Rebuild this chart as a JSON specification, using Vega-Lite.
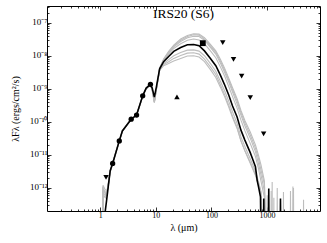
{
  "$schema": "https://vega.github.io/schema/vega-lite/v6.json",
  "width": 273,
  "height": 205,
  "autosize": {"type": "none"},
  "padding": {"left": 47, "top": 6, "right": 7, "bottom": 32},
  "background": "white",
  "title": {"text": "IRS20 (S6)", "offset": -15, "fontSize": 13.5, "font": "Liberation Serif", "fontWeight": "normal", "anchor": "middle", "color": "black"},
  "config": {
    "view": {"stroke": "black", "strokeWidth": 1},
    "axis": {"domain": false, "grid": false, "labelFont": "Liberation Serif", "titleFont": "Liberation Serif", "labelColor": "black", "titleColor": "black", "tickColor": "black", "titleFontWeight": "normal", "labelFontSize": 8, "titleFontSize": 10, "tickWidth": 0.8}
  },
  "datasets": {
    "models": [
      {"m":"best","w":1.18,"f":1e-14},{"m":"best","w":1.23,"f":2e-13},{"m":"best","w":1.3,"f":4.2e-13},{"m":"best","w":1.4,"f":1.2e-12},{"m":"best","w":1.51,"f":3.3e-12},{"m":"best","w":1.67,"f":5.5e-12},{"m":"best","w":2.2,"f":2.65e-11},{"m":"best","w":2.5,"f":5.3e-11},{"m":"best","w":3.6,"f":1.2e-10},{"m":"best","w":4.5,"f":1.6e-10},{"m":"best","w":5.8,"f":6.1e-10},{"m":"best","w":6.7,"f":1.05e-9},{"m":"best","w":8.0,"f":1.36e-9},{"m":"best","w":8.6,"f":1.05e-9},{"m":"best","w":9.4,"f":5.6e-10},{"m":"best","w":10.2,"f":1.1e-9},{"m":"best","w":11.7,"f":4.0e-9},{"m":"best","w":13.8,"f":6.6e-9},{"m":"best","w":17,"f":9.5e-9},{"m":"best","w":21,"f":1.35e-8},{"m":"best","w":28,"f":1.78e-8},{"m":"best","w":37,"f":2.14e-8},{"m":"best","w":48,"f":2.19e-8},{"m":"best","w":60,"f":2.0e-8},{"m":"best","w":75,"f":1.4e-8},{"m":"best","w":96,"f":8.3e-9},{"m":"best","w":120,"f":5.0e-9},{"m":"best","w":145,"f":2.6e-9},{"m":"best","w":175,"f":1.26e-9},{"m":"best","w":205,"f":6.5e-10},{"m":"best","w":240,"f":3.0e-10},{"m":"best","w":290,"f":1.4e-10},{"m":"best","w":340,"f":5.6e-11},{"m":"best","w":400,"f":2.8e-11},{"m":"best","w":500,"f":1.17e-11},{"m":"best","w":560,"f":7e-12},{"m":"best","w":620,"f":4.4e-12},{"m":"best","w":666,"f":1.7e-12},{"m":"best","w":711,"f":1.0e-12},{"m":"best","w":764,"f":5.4e-13},{"m":"best","w":790,"f":1e-14},{"m":"best","w":860,"f":1e-14},{"m":"best","w":875,"f":4.8e-13},{"m":"best","w":890,"f":1e-14},{"m":"best","w":1060,"f":1e-14},{"m":"best","w":1077,"f":9.6e-13},{"m":"best","w":1095,"f":1e-14},{"m":"best","w":1720,"f":1e-14},{"m":"best","w":1750,"f":4.8e-13},{"m":"best","w":1780,"f":1e-14},

      {"m":"g1","w":1.09,"f":1e-14},{"m":"g1","w":1.1,"f":8e-13},{"m":"g1","w":1.2,"f":7e-13},{"m":"g1","w":1.3,"f":6.5e-13},{"m":"g1","w":1.4,"f":1.3e-12},{"m":"g1","w":1.5,"f":3.0e-12},{"m":"g1","w":1.67,"f":5.6e-12},{"m":"g1","w":2.2,"f":2.7e-11},{"m":"g1","w":2.5,"f":5.4e-11},{"m":"g1","w":3.6,"f":1.22e-10},{"m":"g1","w":4.5,"f":1.65e-10},{"m":"g1","w":5.8,"f":6.0e-10},{"m":"g1","w":6.7,"f":1.0e-9},{"m":"g1","w":8.0,"f":1.3e-9},{"m":"g1","w":8.6,"f":9.5e-10},{"m":"g1","w":9.4,"f":4.2e-10},{"m":"g1","w":10.2,"f":9.8e-10},
      {"m":"g1","w":11.7,"f":4.2e-9},{"m":"g1","w":13.8,"f":7.9e-9},{"m":"g1","w":17,"f":1.35e-8},{"m":"g1","w":21,"f":2.1e-8},{"m":"g1","w":28,"f":3.2e-8},{"m":"g1","w":37,"f":4.1e-8},{"m":"g1","w":48,"f":4.6e-8},{"m":"g1","w":60,"f":4.5e-8},{"m":"g1","w":75,"f":3.5e-8},{"m":"g1","w":96,"f":2.2e-8},{"m":"g1","w":120,"f":1.4e-8},{"m":"g1","w":145,"f":7.8e-9},{"m":"g1","w":175,"f":4.0e-9},{"m":"g1","w":205,"f":2.1e-9},{"m":"g1","w":240,"f":1.07e-9},{"m":"g1","w":290,"f":5.0e-10},{"m":"g1","w":340,"f":2.2e-10},{"m":"g1","w":400,"f":1.1e-10},{"m":"g1","w":500,"f":4.9e-11},{"m":"g1","w":620,"f":2.0e-11},{"m":"g1","w":700,"f":1.0e-11},{"m":"g1","w":780,"f":5.0e-12},{"m":"g1","w":900,"f":1.6e-12},{"m":"g1","w":950,"f":1e-14},{"m":"g1","w":1230,"f":1e-14},{"m":"g1","w":1240,"f":1.5e-12},{"m":"g1","w":1250,"f":1e-14},{"m":"g1","w":2960,"f":1e-14},{"m":"g1","w":3000,"f":1e-12},{"m":"g1","w":3040,"f":1e-14},

      {"m":"g2","w":1.11,"f":1e-14},{"m":"g2","w":1.12,"f":6e-13},{"m":"g2","w":1.25,"f":5e-13},{"m":"g2","w":1.35,"f":9e-13},{"m":"g2","w":1.5,"f":3.1e-12},{"m":"g2","w":1.67,"f":5.5e-12},{"m":"g2","w":2.2,"f":2.6e-11},{"m":"g2","w":2.5,"f":5.2e-11},{"m":"g2","w":3.6,"f":1.2e-10},{"m":"g2","w":4.5,"f":1.62e-10},{"m":"g2","w":5.8,"f":6.1e-10},{"m":"g2","w":6.7,"f":1.03e-9},{"m":"g2","w":8.0,"f":1.32e-9},{"m":"g2","w":8.6,"f":9.8e-10},{"m":"g2","w":9.4,"f":4.3e-10},{"m":"g2","w":10.2,"f":1.0e-9},
      {"m":"g2","w":11.7,"f":4.1e-9},{"m":"g2","w":13.8,"f":7.6e-9},{"m":"g2","w":17,"f":1.26e-8},{"m":"g2","w":21,"f":2.0e-8},{"m":"g2","w":28,"f":2.95e-8},{"m":"g2","w":37,"f":3.8e-8},{"m":"g2","w":48,"f":4.3e-8},{"m":"g2","w":60,"f":4.2e-8},{"m":"g2","w":75,"f":3.2e-8},{"m":"g2","w":96,"f":2.0e-8},{"m":"g2","w":120,"f":1.26e-8},{"m":"g2","w":145,"f":6.9e-9},{"m":"g2","w":175,"f":3.5e-9},{"m":"g2","w":205,"f":1.86e-9},{"m":"g2","w":240,"f":9.3e-10},{"m":"g2","w":290,"f":4.3e-10},{"m":"g2","w":340,"f":1.9e-10},{"m":"g2","w":400,"f":9.3e-11},{"m":"g2","w":500,"f":4.0e-11},{"m":"g2","w":620,"f":1.6e-11},{"m":"g2","w":700,"f":7.9e-12},{"m":"g2","w":780,"f":3.5e-12},{"m":"g2","w":900,"f":1.26e-12},{"m":"g2","w":1000,"f":1e-14},{"m":"g2","w":1510,"f":1e-14},{"m":"g2","w":1530,"f":1e-12},{"m":"g2","w":1550,"f":1e-14},{"m":"g2","w":4500,"f":1e-14},{"m":"g2","w":4550,"f":4.4e-13},{"m":"g2","w":4600,"f":1e-14},

      {"m":"g3","w":1.1,"f":1e-14},{"m":"g3","w":1.11,"f":1.0e-12},{"m":"g3","w":1.2,"f":8e-13},{"m":"g3","w":1.3,"f":7e-13},{"m":"g3","w":1.4,"f":1.4e-12},{"m":"g3","w":1.5,"f":3.3e-12},{"m":"g3","w":1.67,"f":5.7e-12},{"m":"g3","w":2.2,"f":2.7e-11},{"m":"g3","w":2.5,"f":5.3e-11},{"m":"g3","w":3.6,"f":1.21e-10},{"m":"g3","w":4.5,"f":1.63e-10},{"m":"g3","w":5.8,"f":6.0e-10},{"m":"g3","w":6.7,"f":1.02e-9},{"m":"g3","w":8.0,"f":1.31e-9},{"m":"g3","w":8.6,"f":9.6e-10},{"m":"g3","w":9.4,"f":4.0e-10},{"m":"g3","w":10.2,"f":9.6e-10},
      {"m":"g3","w":11.7,"f":4.0e-9},{"m":"g3","w":13.8,"f":7.4e-9},{"m":"g3","w":17,"f":1.2e-8},{"m":"g3","w":21,"f":1.86e-8},{"m":"g3","w":28,"f":2.7e-8},{"m":"g3","w":37,"f":3.5e-8},{"m":"g3","w":48,"f":3.9e-8},{"m":"g3","w":60,"f":3.8e-8},{"m":"g3","w":75,"f":2.95e-8},{"m":"g3","w":96,"f":1.8e-8},{"m":"g3","w":120,"f":1.12e-8},{"m":"g3","w":145,"f":6.0e-9},{"m":"g3","w":175,"f":3.0e-9},{"m":"g3","w":205,"f":1.6e-9},{"m":"g3","w":240,"f":7.9e-10},{"m":"g3","w":290,"f":3.5e-10},{"m":"g3","w":340,"f":1.6e-10},{"m":"g3","w":400,"f":7.6e-11},{"m":"g3","w":500,"f":3.2e-11},{"m":"g3","w":620,"f":1.26e-11},{"m":"g3","w":700,"f":5.6e-12},{"m":"g3","w":780,"f":2.5e-12},{"m":"g3","w":900,"f":7.9e-13},{"m":"g3","w":960,"f":1e-14},{"m":"g3","w":1960,"f":1e-14},{"m":"g3","w":1980,"f":7.5e-13},{"m":"g3","w":2000,"f":1e-14},

      {"m":"g4","w":1.12,"f":1e-14},{"m":"g4","w":1.13,"f":7e-13},{"m":"g4","w":1.22,"f":6e-13},{"m":"g4","w":1.32,"f":7.5e-13},{"m":"g4","w":1.42,"f":1.5e-12},{"m":"g4","w":1.52,"f":3.4e-12},{"m":"g4","w":1.67,"f":5.5e-12},{"m":"g4","w":2.2,"f":2.65e-11},{"m":"g4","w":2.5,"f":5.3e-11},{"m":"g4","w":3.6,"f":1.2e-10},{"m":"g4","w":4.5,"f":1.6e-10},{"m":"g4","w":5.8,"f":6.1e-10},{"m":"g4","w":6.7,"f":1.04e-9},{"m":"g4","w":8.0,"f":1.34e-9},{"m":"g4","w":8.6,"f":1.0e-9},{"m":"g4","w":9.4,"f":4.6e-10},{"m":"g4","w":10.2,"f":1.02e-9},
      {"m":"g4","w":11.7,"f":4.0e-9},{"m":"g4","w":13.8,"f":7.1e-9},{"m":"g4","w":17,"f":1.12e-8},{"m":"g4","w":21,"f":1.66e-8},{"m":"g4","w":28,"f":2.3e-8},{"m":"g4","w":37,"f":2.95e-8},{"m":"g4","w":48,"f":3.2e-8},{"m":"g4","w":60,"f":3.0e-8},{"m":"g4","w":75,"f":2.3e-8},{"m":"g4","w":96,"f":1.4e-8},{"m":"g4","w":120,"f":8.7e-9},{"m":"g4","w":145,"f":4.6e-9},{"m":"g4","w":175,"f":2.3e-9},{"m":"g4","w":205,"f":1.17e-9},{"m":"g4","w":240,"f":5.8e-10},{"m":"g4","w":290,"f":2.6e-10},{"m":"g4","w":340,"f":1.12e-10},{"m":"g4","w":400,"f":5.4e-11},{"m":"g4","w":500,"f":2.2e-11},{"m":"g4","w":620,"f":8.9e-12},{"m":"g4","w":700,"f":4.0e-12},{"m":"g4","w":780,"f":1.6e-12},{"m":"g4","w":900,"f":5.0e-13},{"m":"g4","w":950,"f":1e-14},{"m":"g4","w":2620,"f":1e-14},{"m":"g4","w":2650,"f":8e-13},{"m":"g4","w":2680,"f":1e-14},

      {"m":"g5","w":1.1,"f":1e-14},{"m":"g5","w":1.12,"f":9e-13},{"m":"g5","w":1.2,"f":7.5e-13},{"m":"g5","w":1.3,"f":6e-13},{"m":"g5","w":1.4,"f":1.25e-12},{"m":"g5","w":1.5,"f":3.2e-12},{"m":"g5","w":1.67,"f":5.6e-12},{"m":"g5","w":2.2,"f":2.7e-11},{"m":"g5","w":2.5,"f":5.4e-11},{"m":"g5","w":3.6,"f":1.22e-10},{"m":"g5","w":4.5,"f":1.64e-10},{"m":"g5","w":5.8,"f":5.9e-10},{"m":"g5","w":6.7,"f":1.0e-9},{"m":"g5","w":8.0,"f":1.29e-9},{"m":"g5","w":8.6,"f":9.3e-10},{"m":"g5","w":9.4,"f":4.0e-10},{"m":"g5","w":10.2,"f":9.4e-10},
      {"m":"g5","w":11.7,"f":3.8e-9},{"m":"g5","w":13.8,"f":5.8e-9},{"m":"g5","w":17,"f":7.6e-9},{"m":"g5","w":21,"f":1.0e-8},{"m":"g5","w":28,"f":1.26e-8},{"m":"g5","w":37,"f":1.48e-8},{"m":"g5","w":48,"f":1.5e-8},{"m":"g5","w":60,"f":1.38e-8},{"m":"g5","w":75,"f":1.0e-8},{"m":"g5","w":96,"f":5.8e-9},{"m":"g5","w":120,"f":3.4e-9},{"m":"g5","w":145,"f":1.7e-9},{"m":"g5","w":175,"f":8.3e-10},{"m":"g5","w":205,"f":4.2e-10},{"m":"g5","w":240,"f":2.0e-10},{"m":"g5","w":290,"f":8.9e-11},{"m":"g5","w":340,"f":3.5e-11},{"m":"g5","w":400,"f":1.8e-11},{"m":"g5","w":500,"f":7.6e-12},{"m":"g5","w":620,"f":3.2e-12},{"m":"g5","w":700,"f":1.6e-12},{"m":"g5","w":780,"f":7.9e-13},{"m":"g5","w":850,"f":1e-14},{"m":"g5","w":1000,"f":1e-14},{"m":"g5","w":1010,"f":6e-13},{"m":"g5","w":1020,"f":1e-14},{"m":"g5","w":1180,"f":1e-14},{"m":"g5","w":1190,"f":8e-13},{"m":"g5","w":1200,"f":1e-14},

      {"m":"g6","w":1.11,"f":1e-14},{"m":"g6","w":1.12,"f":1.2e-12},{"m":"g6","w":1.22,"f":9e-13},{"m":"g6","w":1.32,"f":8e-13},{"m":"g6","w":1.42,"f":1.4e-12},{"m":"g6","w":1.5,"f":3.0e-12},{"m":"g6","w":1.67,"f":5.4e-12},{"m":"g6","w":2.2,"f":2.6e-11},{"m":"g6","w":2.5,"f":5.2e-11},{"m":"g6","w":3.6,"f":1.19e-10},{"m":"g6","w":4.5,"f":1.62e-10},{"m":"g6","w":5.8,"f":6.0e-10},{"m":"g6","w":6.7,"f":1.01e-9},{"m":"g6","w":8.0,"f":1.3e-9},{"m":"g6","w":8.6,"f":9.2e-10},{"m":"g6","w":9.4,"f":3.9e-10},{"m":"g6","w":10.2,"f":9.2e-10},
      {"m":"g6","w":11.7,"f":3.7e-9},{"m":"g6","w":13.8,"f":5.4e-9},{"m":"g6","w":17,"f":6.6e-9},{"m":"g6","w":21,"f":8.3e-9},{"m":"g6","w":28,"f":1.02e-8},{"m":"g6","w":37,"f":1.2e-8},{"m":"g6","w":48,"f":1.23e-8},{"m":"g6","w":60,"f":1.12e-8},{"m":"g6","w":75,"f":7.9e-9},{"m":"g6","w":96,"f":4.6e-9},{"m":"g6","w":120,"f":2.7e-9},{"m":"g6","w":145,"f":1.32e-9},{"m":"g6","w":175,"f":6.3e-10},{"m":"g6","w":205,"f":3.2e-10},{"m":"g6","w":240,"f":1.48e-10},{"m":"g6","w":290,"f":6.8e-11},{"m":"g6","w":340,"f":2.7e-11},{"m":"g6","w":400,"f":1.32e-11},{"m":"g6","w":500,"f":5.6e-12},{"m":"g6","w":620,"f":2.4e-12},{"m":"g6","w":700,"f":1.26e-12},{"m":"g6","w":780,"f":6.3e-13},{"m":"g6","w":850,"f":1e-14},{"m":"g6","w":2900,"f":1e-14},{"m":"g6","w":2930,"f":1.1e-12},{"m":"g6","w":2960,"f":1e-14},

      {"m":"g7","w":1.1,"f":1e-14},{"m":"g7","w":1.11,"f":6e-13},{"m":"g7","w":1.2,"f":5.5e-13},{"m":"g7","w":1.3,"f":6e-13},{"m":"g7","w":1.4,"f":1.2e-12},{"m":"g7","w":1.5,"f":3.1e-12},{"m":"g7","w":1.67,"f":5.6e-12},{"m":"g7","w":2.2,"f":2.7e-11},{"m":"g7","w":2.5,"f":5.3e-11},{"m":"g7","w":3.6,"f":1.2e-10},{"m":"g7","w":4.5,"f":1.63e-10},{"m":"g7","w":5.8,"f":5.9e-10},{"m":"g7","w":6.7,"f":1.0e-9},{"m":"g7","w":8.0,"f":1.28e-9},{"m":"g7","w":8.6,"f":9.0e-10},{"m":"g7","w":9.4,"f":3.8e-10},{"m":"g7","w":10.2,"f":9.0e-10},
      {"m":"g7","w":11.7,"f":3.6e-9},{"m":"g7","w":13.8,"f":5.0e-9},{"m":"g7","w":17,"f":5.8e-9},{"m":"g7","w":21,"f":6.9e-9},{"m":"g7","w":28,"f":8.3e-9},{"m":"g7","w":37,"f":9.8e-9},{"m":"g7","w":48,"f":1.0e-8},{"m":"g7","w":60,"f":9.1e-9},{"m":"g7","w":75,"f":6.6e-9},{"m":"g7","w":96,"f":3.8e-9},{"m":"g7","w":120,"f":2.2e-9},{"m":"g7","w":145,"f":1.12e-9},{"m":"g7","w":175,"f":5.5e-10},{"m":"g7","w":205,"f":2.8e-10},{"m":"g7","w":240,"f":1.35e-10},{"m":"g7","w":290,"f":6.3e-11},{"m":"g7","w":340,"f":2.6e-11},{"m":"g7","w":400,"f":1.35e-11},{"m":"g7","w":500,"f":6.0e-12},{"m":"g7","w":620,"f":2.6e-12},{"m":"g7","w":700,"f":1.4e-12},{"m":"g7","w":780,"f":7.1e-13},{"m":"g7","w":830,"f":1e-14},{"m":"g7","w":1320,"f":1e-14},{"m":"g7","w":1330,"f":5e-13},{"m":"g7","w":1340,"f":1e-14}
    ],
    "phot": [
      {"t":"det","w":1.67,"f":5.5e-12},{"t":"det","w":2.2,"f":2.65e-11},{"t":"det","w":3.6,"f":1.2e-10},{"t":"det","w":4.5,"f":1.6e-10},{"t":"det","w":5.8,"f":6.1e-10},{"t":"det","w":8.0,"f":1.36e-9},
      {"t":"sq","w":70,"f":2.4e-8},
      {"t":"up","w":1.27,"f":2.1e-12},{"t":"up","w":160,"f":2.5e-8},{"t":"up","w":250,"f":7.8e-9},{"t":"up","w":350,"f":2.4e-9},{"t":"up","w":500,"f":5.4e-10},{"t":"up","w":870,"f":4.3e-11},
      {"t":"low","w":24,"f":5.7e-10}
    ]
  },
  "resolve": {"axis": {"x": "independent", "y": "independent"}},
  "layer": [
    {
      "data": {"name": "models"},
      "transform": [{"filter": "datum.m != 'best'"}],
      "mark": {"type": "line", "clip": true, "color": "#bdbdbd", "strokeWidth": 1.1},
      "encoding": {
        "x": {"field": "w", "type": "quantitative", "scale": {"type": "log", "domain": [0.11, 9000], "nice": false},
              "axis": {"orient": "bottom", "values": [1, 10, 100, 1000], "format": "d", "tickSize": -4, "labelPadding": 4, "labelFontSize": 8, "title": "λ (μm)", "titlePadding": 3}},
        "y": {"field": "f", "type": "quantitative", "scale": {"type": "log", "domain": [2e-13, 3.2e-7], "nice": false},
              "axis": {"orient": "left", "values": [1e-12, 1e-11, 1e-10, 1e-9, 1e-8, 1e-7], "tickSize": -4, "labelPadding": 4, "labelFontSize": 9, "labelBaseline": "alphabetic", "labelOffset": 2,
                       "labelExpr": "datum.value < 5e-12 ? '10⁻¹²' : datum.value < 5e-11 ? '10⁻¹¹' : datum.value < 5e-10 ? '10⁻¹⁰' : datum.value < 5e-9 ? '10⁻⁹' : datum.value < 5e-8 ? '10⁻⁸' : '10⁻⁷'",
                       "title": "λFλ (ergs/cm²/s)", "titleFontSize": 10, "titlePadding": 9}},
        "detail": {"field": "m"}
      }
    },
    {
      "data": {"name": "models"},
      "transform": [{"filter": "datum.m == 'best'"}],
      "mark": {"type": "line", "clip": true, "color": "black", "strokeWidth": 1.6},
      "encoding": {
        "x": {"field": "w", "type": "quantitative", "scale": {"type": "log", "domain": [0.11, 9000], "nice": false},
              "axis": {"orient": "bottom", "values": [0.2,0.3,0.4,0.5,0.6,0.7,0.8,0.9,2,3,4,5,6,7,8,9,20,30,40,50,60,70,80,90,200,300,400,500,600,700,800,900,2000,3000,4000,5000,6000,7000,8000], "tickSize": -2, "labels": false, "title": null}},
        "y": {"field": "f", "type": "quantitative", "scale": {"type": "log", "domain": [2e-13, 3.2e-7], "nice": false},
              "axis": {"orient": "left", "values": [3e-13,4e-13,5e-13,6e-13,7e-13,8e-13,9e-13,2e-12,3e-12,4e-12,5e-12,6e-12,7e-12,8e-12,9e-12,2e-11,3e-11,4e-11,5e-11,6e-11,7e-11,8e-11,9e-11,2e-10,3e-10,4e-10,5e-10,6e-10,7e-10,8e-10,9e-10,2e-9,3e-9,4e-9,5e-9,6e-9,7e-9,8e-9,9e-9,2e-8,3e-8,4e-8,5e-8,6e-8,7e-8,8e-8,9e-8,2e-7,3e-7], "tickSize": -2, "labels": false, "title": null}}
      }
    },
    {
      "data": {"name": "phot"},
      "transform": [{"filter": "datum.t == 'det'"}],
      "mark": {"type": "point", "shape": "circle", "filled": true, "size": 28, "color": "black", "opacity": 1},
      "encoding": {
        "x": {"field": "w", "type": "quantitative", "scale": {"type": "log", "domain": [0.11, 9000], "nice": false},
              "axis": {"orient": "top", "values": [1, 10, 100, 1000], "tickSize": -4, "labels": false, "title": null}},
        "y": {"field": "f", "type": "quantitative", "scale": {"type": "log", "domain": [2e-13, 3.2e-7], "nice": false},
              "axis": {"orient": "right", "values": [1e-12, 1e-11, 1e-10, 1e-9, 1e-8, 1e-7], "tickSize": -4, "labels": false, "title": null}}
      }
    },
    {
      "data": {"name": "phot"},
      "transform": [{"filter": "datum.t == 'up'"}],
      "mark": {"type": "point", "shape": "triangle-down", "filled": true, "size": 30, "color": "black", "opacity": 1},
      "encoding": {
        "x": {"field": "w", "type": "quantitative", "scale": {"type": "log", "domain": [0.11, 9000], "nice": false},
              "axis": {"orient": "top", "values": [0.2,0.3,0.4,0.5,0.6,0.7,0.8,0.9,2,3,4,5,6,7,8,9,20,30,40,50,60,70,80,90,200,300,400,500,600,700,800,900,2000,3000,4000,5000,6000,7000,8000], "tickSize": -2, "labels": false, "title": null}},
        "y": {"field": "f", "type": "quantitative", "scale": {"type": "log", "domain": [2e-13, 3.2e-7], "nice": false},
              "axis": {"orient": "right", "values": [3e-13,4e-13,5e-13,6e-13,7e-13,8e-13,9e-13,2e-12,3e-12,4e-12,5e-12,6e-12,7e-12,8e-12,9e-12,2e-11,3e-11,4e-11,5e-11,6e-11,7e-11,8e-11,9e-11,2e-10,3e-10,4e-10,5e-10,6e-10,7e-10,8e-10,9e-10,2e-9,3e-9,4e-9,5e-9,6e-9,7e-9,8e-9,9e-9,2e-8,3e-8,4e-8,5e-8,6e-8,7e-8,8e-8,9e-8,2e-7,3e-7], "tickSize": -2, "labels": false, "title": null}}
      }
    },
    {
      "data": {"name": "phot"},
      "transform": [{"filter": "datum.t == 'sq'"}],
      "mark": {"type": "point", "shape": "square", "filled": true, "size": 34, "color": "black", "opacity": 1},
      "encoding": {
        "x": {"field": "w", "type": "quantitative", "scale": {"type": "log", "domain": [0.11, 9000], "nice": false}, "axis": null},
        "y": {"field": "f", "type": "quantitative", "scale": {"type": "log", "domain": [2e-13, 3.2e-7], "nice": false}, "axis": null}
      }
    },
    {
      "data": {"name": "phot"},
      "transform": [{"filter": "datum.t == 'low'"}],
      "mark": {"type": "point", "shape": "triangle-up", "filled": true, "size": 30, "color": "black", "opacity": 1},
      "encoding": {
        "x": {"field": "w", "type": "quantitative", "scale": {"type": "log", "domain": [0.11, 9000], "nice": false}, "axis": null},
        "y": {"field": "f", "type": "quantitative", "scale": {"type": "log", "domain": [2e-13, 3.2e-7], "nice": false}, "axis": null}
      }
    }
  ]
}
